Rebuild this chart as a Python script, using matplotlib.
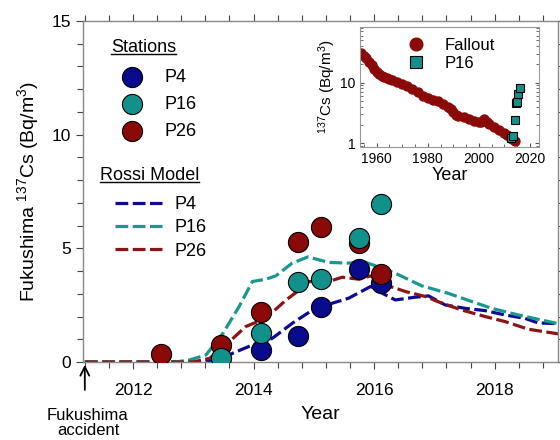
import matplotlib
matplotlib.use("Agg")
import matplotlib.pyplot as plt
from matplotlib.lines import Line2D
from matplotlib.ticker import MultipleLocator, FixedLocator, NullFormatter, LogLocator

plt.rcParams['font.family'] = ['Liberation Sans', 'DejaVu Sans']
plt.rcParams['mathtext.fontset'] = 'custom'
plt.rcParams['mathtext.rm'] = 'Liberation Sans'
plt.rcParams['mathtext.it'] = 'Liberation Sans:italic'
plt.rcParams['mathtext.bf'] = 'Liberation Sans:bold'

# ---------------- data ----------------
p4_years = [2014.13, 2014.74, 2015.11, 2015.75, 2016.12]
p4_vals = [0.53, 1.15, 2.41, 4.08, 3.47]
p16_years = [2013.46, 2014.13, 2014.74, 2015.11, 2015.75, 2016.12]
p16_vals = [0.16, 1.29, 3.51, 3.66, 5.45, 6.96]
p26_years = [2012.47, 2013.46, 2014.13, 2014.74, 2015.11, 2015.75, 2016.12]
p26_vals = [0.34, 0.75, 2.2, 5.27, 5.93, 5.23, 3.88]

m4_years = [2011.2, 2013.0, 2013.43, 2013.65, 2013.98, 2014.31, 2014.64, 2014.98, 2015.31,
            2015.58, 2015.94, 2016.08, 2016.35, 2016.68, 2016.9, 2017.18, 2017.51, 2017.84,
            2018.17, 2018.5, 2018.72, 2019.1]
m4_vals = [0.0, 0.0, 0.09, 0.38, 0.75, 1.04, 1.7, 2.29, 2.59,
           2.81, 3.32, 3.1, 2.73, 2.85, 2.91, 2.51, 2.36, 2.26,
           2.07, 1.92, 1.72, 1.68]
m16_years = [2011.2, 2012.7, 2012.94, 2013.21, 2013.49, 2013.76, 2013.98, 2014.2, 2014.37,
             2014.64, 2014.9, 2015.25, 2015.58, 2015.86, 2016.19, 2016.41, 2016.79, 2017.23,
             2017.62, 2017.95, 2018.39, 2018.72, 2019.1]
m16_vals = [0.0, 0.0, 0.09, 0.31, 1.26, 2.44, 3.54, 3.64, 3.79,
            4.35, 4.62, 4.38, 4.35, 4.38, 4.08, 3.83, 3.35, 3.02,
            2.66, 2.36, 2.07, 1.88, 1.66]
m26_years = [2011.2, 2013.0, 2013.27, 2013.54, 2013.87, 2014.2, 2014.54, 2014.76, 2014.92,
             2015.2, 2015.47, 2015.75, 2015.94, 2016.19, 2016.52, 2016.85, 2017.12, 2017.45,
             2017.84, 2018.17, 2018.56, 2019.1]
m26_vals = [0.0, 0.0, 0.16, 0.75, 1.56, 1.92, 2.73, 3.17, 3.54,
            3.5, 3.73, 3.64, 3.79, 3.39, 3.1, 2.88, 2.59, 2.29,
            2.0, 1.78, 1.44, 1.22]

fallout_years = [1954, 1955, 1956, 1957, 1958, 1959, 1960, 1961, 1962, 1963, 1964, 1965,
                 1966, 1968, 1970, 1972, 1974, 1976, 1978, 1980, 1982, 1984, 1986, 1988,
                 1989, 1990, 1991, 1992, 1994, 1996, 1998, 2000, 2001, 2002, 2003, 2004,
                 2006, 2008, 2010, 2011, 2012, 2013, 2014]
fallout_vals = [30.6, 28, 25.3, 22, 19.6, 17, 14.7, 13.6, 12.8, 12.2, 11.7, 11.3,
                10.9, 10.1, 9.4, 8.7, 7.9, 7.0, 6.1, 5.5, 5.2, 4.9, 4.5, 4.0,
                3.7, 3.2, 2.95, 2.85, 2.65, 2.5, 2.35, 2.25, 2.2, 2.5, 2.25, 2.1,
                1.85, 1.65, 1.48, 1.38, 1.28, 1.18, 1.07]
inset_p16_years = [2012.6, 2013.3, 2014.1, 2014.6, 2014.9, 2015.4, 2015.9]
inset_p16_vals = [1.2, 1.32, 2.45, 4.65, 4.8, 6.5, 8.1]

x_ticks = [2012, 2014, 2016, 2018]
y_ticks = [0, 5, 10, 15]
inset_x_ticks = [1960, 1980, 2000, 2020]
inset_y_ticks = [1, 10]

# ---------------- colours ----------------
C4 = '#0a0a8c'
C16 = '#12918a'
C26 = '#8a0a0a'
L4 = '#0a0a96'
L16 = '#1a978e'
L26 = '#8c1414'

W, H = 560, 440
fig = plt.figure(figsize=(5.6, 4.4), dpi=100)
ax = fig.add_axes([83 / W, 1 - 362 / H, (558 - 83) / W, (362 - 21) / H])

dash = (4, 1.4)
lw = 2.3
l4, = ax.plot(m4_years, m4_vals, color=L4, lw=lw, dashes=dash, zorder=2)
l16, = ax.plot(m16_years, m16_vals, color=L16, lw=lw, dashes=dash, zorder=2)
l26, = ax.plot(m26_years, m26_vals, color=L26, lw=lw, dashes=dash, zorder=2)

ms = 210
s4 = ax.scatter(p4_years, p4_vals, s=ms, color=C4, edgecolor='black', linewidth=0.8, zorder=3)
s26 = ax.scatter(p26_years, p26_vals, s=ms, color=C26, edgecolor='black', linewidth=0.8, zorder=4)
s16 = ax.scatter(p16_years, p16_vals, s=ms, color=C16, edgecolor='black', linewidth=0.8, zorder=5)

ax.set_xlim(2011.17, 2019.05)
ax.set_ylim(0, 15)
ax.xaxis.set_major_locator(FixedLocator(x_ticks))
ax.xaxis.set_minor_locator(MultipleLocator(0.4))
ax.yaxis.set_major_locator(FixedLocator(y_ticks))
ax.yaxis.set_minor_locator(MultipleLocator(1))
ax.tick_params(which='both', direction='out', top=True, right=True, colors='#444444',
               labelcolor='black', labelsize=12.5)
ax.tick_params(which='major', length=5, width=0.8)
ax.tick_params(which='minor', length=4, width=0.8)
ax.tick_params(axis='x', pad=10)
for sp in ax.spines.values():
    sp.set_color('#888888')
    sp.set_linewidth(1.0)

ax.set_xlabel('Year', fontsize=14, labelpad=6)
ax.set_ylabel('Fukushima $^{137}$Cs (Bq/m$^3$)', fontsize=14, labelpad=8)

# Fukushima accident arrow
ax.annotate('', xy=(2011.2, 0), xytext=(2011.2, -1.35), xycoords='data',
            arrowprops=dict(arrowstyle='->', color='black', lw=1.3, mutation_scale=16),
            annotation_clip=False)
fig.text(88 / W, 1 - 423 / H, 'Fukushima\naccident', ha='center', va='center',
         fontsize=12, linespacing=1.05)

# legends
t1 = fig.text(111 / W, 1 - 47 / H, 'Stations', fontsize=13, ha='left', va='center')
leg1 = ax.legend([s4, s16, s26], ['P4', 'P16', 'P26'], loc='upper left',
                 bbox_to_anchor=(119 / W, 1 - 69 / H), bbox_transform=fig.transFigure,
                 frameon=False, fontsize=13, handlelength=1.4, handletextpad=1.1,
                 labelspacing=0.56, borderpad=0, borderaxespad=0, scatterpoints=1)
ax.add_artist(leg1)
t2 = fig.text(100 / W, 1 - 175 / H, 'Rossi Model', fontsize=13, ha='left', va='center')
leg2 = ax.legend([l4, l16, l26], ['P4', 'P16', 'P26'], loc='upper left',
                 bbox_to_anchor=(115 / W, 1 - 196 / H), bbox_transform=fig.transFigure,
                 frameon=False, fontsize=13, handlelength=2.6, handletextpad=0.7,
                 labelspacing=0.35, borderpad=0, borderaxespad=0)

# ---------------- inset ----------------
ins = fig.add_axes([360 / W, 1 - 147 / H, (539 - 360) / W, (147 - 27) / H])
ins.plot(fallout_years, fallout_vals, 'o', color=C26, ms=6.5, mec=C26, label='Fallout', zorder=2)
ins.plot(inset_p16_years, inset_p16_vals, 's', color=C16, ms=6, mec='black', mew=0.8,
         label='P16', zorder=3)
ins.set_yscale('log')
ins.set_xlim(1953.5, 2023.5)
ins.set_ylim(0.86, 83)
ins.xaxis.set_major_locator(FixedLocator(inset_x_ticks))
ins.xaxis.set_minor_locator(MultipleLocator(5))
ins.yaxis.set_major_locator(FixedLocator(inset_y_ticks))
ins.yaxis.set_major_formatter(plt.FuncFormatter(lambda v, p: '%d' % v))
ins.yaxis.set_minor_locator(LogLocator(base=10, subs=range(2, 10)))
ins.yaxis.set_minor_formatter(NullFormatter())
ins.tick_params(which='both', direction='in', top=False, right=True, colors='#555555',
                labelcolor='black', labelsize=10)
ins.tick_params(which='major', length=3)
ins.tick_params(which='minor', length=2)
for sp in ins.spines.values():
    sp.set_color('#999999')
    sp.set_linewidth(0.8)
ins.set_xlabel('Year', fontsize=13, labelpad=1)
ins.set_ylabel('$^{137}$Cs (Bq/m$^3$)', fontsize=11, labelpad=1)
ins.legend(loc='upper left', bbox_to_anchor=(0.22, 0.98), frameon=False, fontsize=12,
           handlelength=1.0, handletextpad=1.2, labelspacing=0.2, borderpad=0, numpoints=1,
           markerscale=1.4)

# underline legend titles
fig.canvas.draw()
r = fig.canvas.get_renderer()
for t in (t1, t2):
    bb = t.get_window_extent(r).transformed(fig.transFigure.inverted())
    yline = bb.y0 + 0.1 * (bb.y1 - bb.y0)
    fig.add_artist(Line2D([bb.x0, bb.x1], [yline, yline], transform=fig.transFigure,
                          color='black', lw=1.0))

fig.savefig('out.png', dpi=100)
